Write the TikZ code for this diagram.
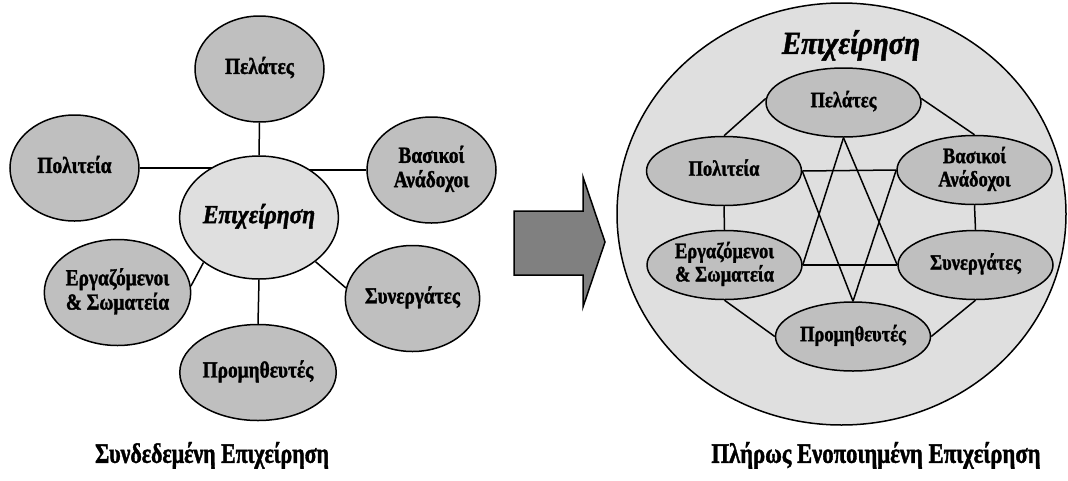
\documentclass[tikz,border=0pt]{standalone}
\usepackage{fontspec}
\setmainfont{Liberation Serif}[BoldFeatures={FakeBold=1.6}, BoldItalicFeatures={FakeBold=1.6}]
\usetikzlibrary{shapes.geometric}
\pgfdeclarelayer{back}
\pgfdeclarelayer{lines}
\pgfsetlayers{back,lines,main}
\definecolor{outerfill}{gray}{0.75}
\definecolor{lightfill}{gray}{0.875}
\definecolor{arrowfill}{gray}{0.5}
\newcommand{\sq}[2][0.84]{\scalebox{#1}[1]{\begin{tabular}{@{}c@{}}#2\end{tabular}}}
\tikzset{
  ell/.style={ellipse, draw=black, line width=1.5pt, inner sep=0pt, align=center,
    font=\bfseries\fontsize{23}{24}\selectfont},
  outer/.style={ell, fill=outerfill, minimum width=129pt, minimum height=106pt},
  inner/.style={ell, fill=outerfill, minimum width=155pt, minimum height=69pt,
    font=\bfseries\fontsize{22}{23}\selectfont},
  conn/.style={draw=black, line width=1.5pt},
  caption/.style={anchor=base, inner sep=0pt, font=\bfseries\fontsize{28}{30}\selectfont},
}
\begin{document}
\begin{tikzpicture}[x=1pt, y=-1pt]
\begin{pgfonlayer}{back}
\fill[white] (0,0) rectangle (1068,480);
\end{pgfonlayer}
\useasboundingbox (0,0) rectangle (1068,480);

% ---------- left diagram ----------
\node[outer] (pel) at (259.5,69) {\sq{Πελάτες}};
\node[outer] (pol) at (74.5,168) {\sq{Πολιτεία}};
\node[outer] (bas) at (431.5,170) {\sq{Βασικοί\\Ανάδοχοι}};
\node[ell, fill=lightfill, minimum width=158pt, minimum height=123pt,
      font=\bfseries\itshape\fontsize{26}{28}\selectfont] (cen) at (259,217.5) {\sq[0.9]{Επιχείρηση}};
\node[outer] (erg) at (117.5,292.5) {\sq{Εργαζόμενοι\\\& Σωματεία}};
\node[outer] (syn) at (412.5,298.5) {\sq{Συνεργάτες}};
\node[outer, minimum height=96pt] (prom) at (258,372.5) {\sq{Προμηθευτές}};

\begin{pgfonlayer}{lines}
\draw[conn] (pel.south) -- (cen.north);
\draw[conn] (pol.east) -- (pol.east -| cen.center);
\draw[conn] (bas.west) -- (bas.west -| cen.center);
\draw[conn] (erg.5) -- (cen.219);
\draw[conn] (cen.322) -- (syn.171);
\draw[conn] (prom.north) -- (cen.south);
\end{pgfonlayer}

% ---------- arrow ----------
\filldraw[fill=arrowfill, draw=black, line width=1.5pt, line join=miter]
  (514,211) -- (583,211) -- (583,177) -- (605,242) -- (583,307) -- (583,275) -- (514,275) -- cycle;

% ---------- right diagram ----------
\begin{pgfonlayer}{back}
\node[ellipse, draw=black, line width=1.5pt, fill=lightfill, inner sep=0pt,
      minimum width=449pt, minimum height=422pt] (ent) at (841.5,214) {};
\end{pgfonlayer}
\node[font=\bfseries\itshape\fontsize{32}{34}\selectfont, inner sep=0pt] (enttitle) at (851,47) {\sq[0.9]{Επιχείρηση}};

\node[inner] (pel2) at (843.5,102.5) {\sq{Πελάτες}};
\node[inner] (pol2) at (724,171) {\sq{Πολιτεία}};
\node[inner] (bas2) at (974.5,170) {\sq{Βασικοί\\Ανάδοχοι}};
\node[inner] (erg2) at (724.5,265) {\sq{Εργαζόμενοι\\\& Σωματεία}};
\node[inner] (syn2) at (975.5,265) {\sq{Συνεργάτες}};
\node[inner] (prom2) at (853,336.5) {\sq{Προμηθευτές}};

\begin{pgfonlayer}{lines}
\draw[conn] (pel2.177) -- (pol2.north);
\draw[conn] (pel2.3) -- (bas2.north);
\draw[conn] (pol2.south) -- (erg2.north);
\draw[conn] (bas2.south) -- (syn2.north);
\draw[conn] (erg2.south) -- (prom2.west);
\draw[conn] (syn2.south) -- (prom2.east);
\draw[conn] (pol2.east) -- (bas2.west);
\draw[conn] (erg2.east) -- (syn2.west);
\draw[conn] (pel2.south) -- (erg2.east);
\draw[conn] (pel2.south) -- (syn2.west);
\draw[conn] (prom2.north) -- (pol2.east);
\draw[conn] (prom2.north) -- (bas2.west);
\end{pgfonlayer}

% ---------- captions ----------
\node[caption] (lab1) at (212,463) {\sq[0.78]{Συνδεδεμένη Επιχείρηση}};
\node[caption] (lab2) at (876,463) {\sq[0.81]{Πλήρως Ενοποιημένη Επιχείρηση}};
\end{tikzpicture}
\end{document}
